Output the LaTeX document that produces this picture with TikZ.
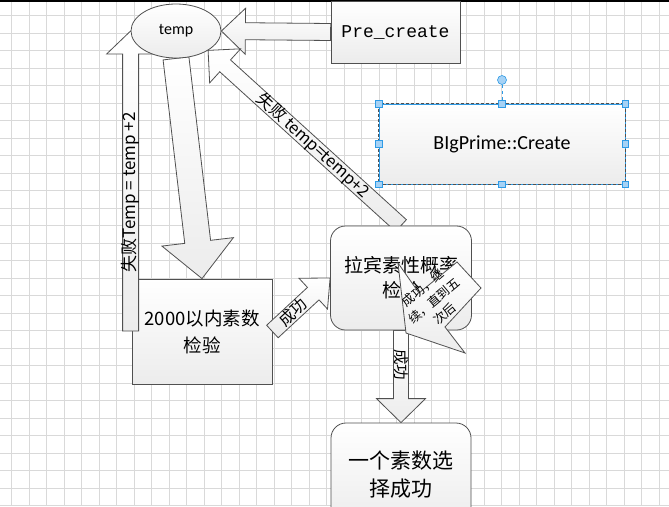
\documentclass[tikz,border=0pt]{standalone}
\usepackage{fontspec}
\setmainfont{Noto Sans CJK SC}
\newfontfamily\calfont{Carlito}
\newfontfamily\monofont{Liberation Mono}
\usetikzlibrary{calc,shapes.geometric}
\pgfdeclarelayer{gridlayer}
\pgfdeclarelayer{boxlayer}
\pgfdeclarelayer{arrowlayer}
\pgfsetlayers{gridlayer,boxlayer,arrowlayer,main}
\definecolor{edge}{HTML}{505050}
\definecolor{selblue}{HTML}{2E9BE6}
\definecolor{handle}{HTML}{A6D2F5}

% block arrow: tail, tip, half shaft, half head, head length, label
\newcommand{\blockarrow}[6]{%
  \coordinate (hb) at ($(#2)!#5!(#1)$);
  \draw[arrowbody] ($(#1)!#3!90:(#2)$) -- ($(hb)!#3!90:(#2)$) -- ($(hb)!#4!90:(#2)$) -- (#2)
    -- ($(hb)!#4!-90:(#2)$) -- ($(hb)!#3!-90:(#2)$) -- ($(#1)!#3!-90:(#2)$) -- cycle;
  \path (#1) -- (hb) node[midway,sloped,arrowtext] {#6};}

\begin{document}
\begin{tikzpicture}[x=1pt,y=-1pt,
    gridline/.style={gray!30,line width=0.9pt},
    fillgrad/.style={top color=white,bottom color=gray!15,draw=edge,line width=0.8pt},
    box/.style={fillgrad,rectangle,align=center,inner sep=0pt},
    rbox/.style={box,rounded corners=15pt},
    arrowbody/.style={fillgrad,line join=miter},
    arrowtext/.style={font=\fontsize{16}{16}\selectfont,inner sep=0pt},
    handlebox/.style={draw=selblue,fill=handle,line width=0.6pt,minimum size=6.5pt,inner sep=0pt}]
    \useasboundingbox (0,0) rectangle (669,506);
    \begin{pgfonlayer}{gridlayer}
        \fill[white] (0,0) rectangle (669,506);
        \foreach \x in {0,...,37} \draw[gridline] ({11.7+17.5*\x},0) -- ({11.7+17.5*\x},506);
        \foreach \y in {0,...,28} \draw[gridline] (0,{15.5+17.5*\y}) -- (669,{15.5+17.5*\y});
    \end{pgfonlayer}
    \draw[black,line width=1.5pt] (0,0.75) -- (669,0.75);

    % shapes
    \node[fillgrad,ellipse,minimum width=90pt,minimum height=54pt,inner sep=0pt,
          font=\calfont\fontsize{16}{16}\selectfont] (temp) at (176,31) {temp};
    \node[box,minimum width=129pt,minimum height=62pt,font=\monofont\fontsize{18}{18}\selectfont]
          (pre) at (395.5,32) {Pre\_create};
    \begin{pgfonlayer}{boxlayer}
        \node[box,minimum width=140pt,minimum height=105pt,font=\fontsize{18.5}{27}\selectfont]
              (prim) at (202,331.5) {2000以内素数\\检验};
    \end{pgfonlayer}
    \node[rbox,minimum width=141pt,minimum height=104pt,font=\fontsize{19}{25}\selectfont]
          (rabin) at (401,278) {拉宾素性概率\\检验};
    \node[rbox,minimum width=140pt,minimum height=104pt,font=\fontsize{21}{28}\selectfont]
          (one) at (401,475) {一个素数选\\择成功};
    \node[box,draw=selblue,minimum width=246pt,minimum height=80pt,font=\calfont\fontsize{20}{20}\selectfont]
          (big) at (502,144) {BIgPrime::Create};
    \draw[edge,dash pattern=on 3pt off 2pt,line width=0.8pt] (big.north west) rectangle (big.south east);

    % block arrows
    \begin{pgfonlayer}{arrowlayer}
        \blockarrow{pre.west}{temp.east}{8.5pt}{23pt}{24pt}{}
        \coordinate (loopfoot) at (temp.west |- 0,331);
        \blockarrow{loopfoot}{temp.west}{8pt}{24pt}{23pt}{\fontsize{17}{17}\selectfont 失败Temp = temp +2}
        \blockarrow{temp.south}{prim.north}{13pt}{36pt}{37pt}{}
        \blockarrow{rabin.north}{temp.south east}{8pt}{23pt}{23pt}{\fontsize{16.5}{16.5}\selectfont 失败 temp=temp+2}
        \blockarrow{prim.east}{rabin.west}{8.5pt}{21pt}{23pt}{成功}
        \blockarrow{rabin.south}{one.north}{7.5pt}{24.5pt}{24pt}{\fontsize{15.5}{15.5}\selectfont 成功}
    \end{pgfonlayer}

    % arrow over the test box
    \draw[arrowbody] (398,263) -- (406,333) -- (465,353) -- (445,327) -- (481,288) -- (457,262) -- (419,293) -- cycle;
    \node[rotate=40,align=center,inner sep=0pt,font=\fontsize{12.5}{17}\selectfont] (looptxt) at (434,301)
          {成功，继\\续，直到五\\次后};

    % selection handles
    \foreach \a in {north west,north,north east,east,south east,south,south west,west}
        \node[handlebox] (h-\a) at (big.\a) {};
    \node[handlebox,circle,minimum size=9pt] (rot) at (502,80) {};
    \draw[selblue,dashed,line width=0.8pt] (rot) -- (h-north);
\end{tikzpicture}
\end{document}
